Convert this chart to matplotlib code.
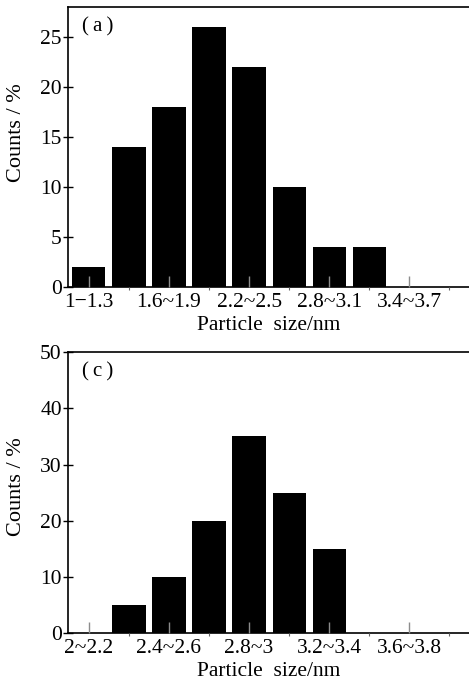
import matplotlib
matplotlib.use("Agg")
import matplotlib.pyplot as plt

plt.rcParams['font.family'] = ['Liberation Serif', 'DejaVu Serif']

# данные: (a)
labels_a = ["1\u22121.3", "1.6~1.9", "2.2~2.5", "2.8~3.1", "3.4~3.7"]
counts_a = [2, 14, 18, 26, 22, 10, 4, 4, 0, 0]

# данные: (c)
labels_c = ["2~2.2", "2.4~2.6", "2.8~3", "3.2~3.4", "3.6~3.8"]
counts_c = [0, 5, 10, 20, 35, 25, 15, 0, 0, 0]

fig = plt.figure(figsize=(4.69, 6.8), dpi=100)
ax_a = fig.add_axes([0.145, 0.578, 0.856, 0.412])
ax_c = fig.add_axes([0.145, 0.069, 0.856, 0.413])


def draw_panel(ax, counts, labels, ymax, yticks, tag, ylab_pos):
    pos = list(range(len(counts)))
    ax.bar(pos, counts, width=0.83, color="black", zorder=1)
    ax.set_xlim(-0.52, 9.5)
    ax.set_ylim(0, ymax)
    ax.set_xticks(pos[::2])
    ax.set_xticklabels(labels)
    ax.set_xticks(pos[1::2], minor=True)
    ax.set_yticks(yticks)
    ax.tick_params(axis="x", which="major", direction="in", length=8,
                   color="0.55", width=1, labelsize=15.5, pad=4)
    ax.tick_params(axis="x", which="minor", direction="out", length=2,
                   color="0.4", width=0.8)
    ax.tick_params(axis="y", direction="inout", length=7, width=1,
                   labelsize=15.5, pad=1)
    ax.spines["right"].set_visible(False)
    for s in ("left", "bottom", "top"):
        ax.spines[s].set_linewidth(1.2)
    ax.set_axisbelow(False)
    ax.set_xlabel("Particle  size/nm", fontsize=15.5, labelpad=3)
    ax.set_ylabel("Counts / %", fontsize=16)
    ax.yaxis.set_label_coords(-0.105, ylab_pos)
    ax.text(0.035, 0.93, "(\u2009" + tag + "\u2009)", transform=ax.transAxes,
            fontsize=15, va="center", ha="left")


draw_panel(ax_a, counts_a, labels_a, 28, [0, 5, 10, 15, 20, 25], "a", 0.55)
draw_panel(ax_c, counts_c, labels_c, 50, [0, 10, 20, 30, 40, 50], "c", 0.52)

fig.savefig("out.png", dpi=100)
